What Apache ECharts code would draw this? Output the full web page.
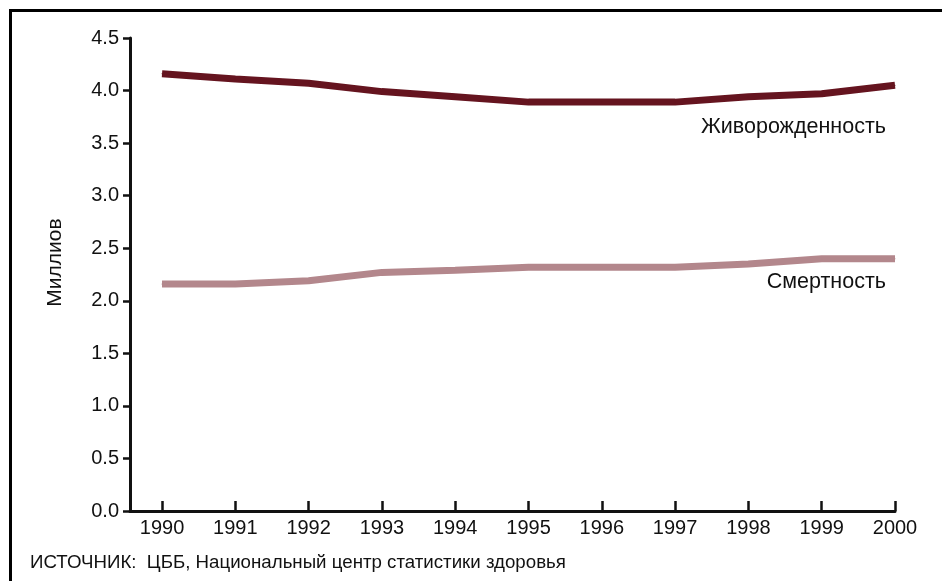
<!DOCTYPE html>
<html>
<head>
<meta charset="utf-8">
<script src="https://cdn.jsdelivr.net/npm/echarts@6/dist/echarts.min.js"></script>
<style>
html,body{margin:0;padding:0;background:#fff;}
#chart{width:942px;height:581px;}
</style>
</head>
<body>
<div id="chart"></div>
<script>
const years = [1990, 1991, 1992, 1993, 1994, 1995, 1996, 1997, 1998, 1999, 2000];
const births = [4.16, 4.11, 4.07, 3.99, 3.94, 3.89, 3.89, 3.89, 3.94, 3.97, 4.05];
const deaths = [2.16, 2.16, 2.19, 2.27, 2.29, 2.32, 2.32, 2.32, 2.35, 2.40, 2.40];
const yTicks = [0, 0.5, 1, 1.5, 2, 2.5, 3, 3.5, 4, 4.5];
const birthsName = 'Живорожденность';
const deathsName = 'Смертность';
const yAxisName = 'Миллиов';
const sourceText = 'ИСТОЧНИК:  ЦББ, Национальный центр статистики здоровья';

const font = '"Liberation Sans", Arial, sans-serif';
const birthColor = '#65141f';
const deathColor = '#b3878c';

function makeData(vals, name, offY) {
  return vals.map((v, i) => {
    const d = { value: [years[i], v] };
    if (i === vals.length - 1) {
      d.label = {
        show: true, formatter: name, position: 'bottom', align: 'right',
        offset: [-9, offY], fontSize: 21.5, color: '#111', fontFamily: font
      };
    }
    return d;
  });
}

const chart = echarts.init(document.getElementById('chart'));
chart.setOption({
  animation: false,
  backgroundColor: '#fff',
  grid: { left: 130, right: 47, top: 38, bottom: 70, containLabel: false },
  xAxis: {
    type: 'value', min: 1989.563, max: 2000,
    axisLine: { show: true, lineStyle: { color: '#111', width: 3 } },
    axisTick: { show: true, inside: true, length: 10, customValues: years, lineStyle: { color: '#111', width: 2.5 } },
    axisLabel: { customValues: years, formatter: v => String(v), fontSize: 20, color: '#111', fontFamily: font, margin: 7 },
    splitLine: { show: false }
  },
  yAxis: {
    type: 'value', min: 0, max: 4.5, interval: 0.5,
    name: yAxisName, nameLocation: 'middle', nameGap: 64, nameRotate: 90,
    nameTextStyle: { fontSize: 21, color: '#111', fontFamily: font, padding: [0, 0, 0, 24] },
    axisLine: { show: true, lineStyle: { color: '#111', width: 3 } },
    axisTick: { show: true, length: 7, lineStyle: { color: '#111', width: 2.5 } },
    axisLabel: { formatter: v => v.toFixed(1), fontSize: 20, color: '#111', fontFamily: font, margin: 11, customValues: yTicks },
    splitLine: { show: false }
  },
  series: [
    {
      type: 'line', data: makeData(births, birthsName, 25),
      symbol: 'circle', symbolSize: 1, showSymbol: true,
      itemStyle: { color: birthColor },
      lineStyle: { color: birthColor, width: 7 }
    },
    {
      type: 'line', data: makeData(deaths, deathsName, 7),
      symbol: 'circle', symbolSize: 1, showSymbol: true,
      itemStyle: { color: deathColor },
      lineStyle: { color: deathColor, width: 7 }
    }
  ],
  graphic: [
    { type: 'rect', shape: { x: 10.5, y: 10.5, width: 945, height: 585 }, style: { fill: 'none', stroke: '#000', lineWidth: 3 } },
    { type: 'text', left: 30, top: 553, style: { text: sourceText, fontSize: 18.7, fill: '#111', fontFamily: font } }
  ]
});
</script>
</body>
</html>
